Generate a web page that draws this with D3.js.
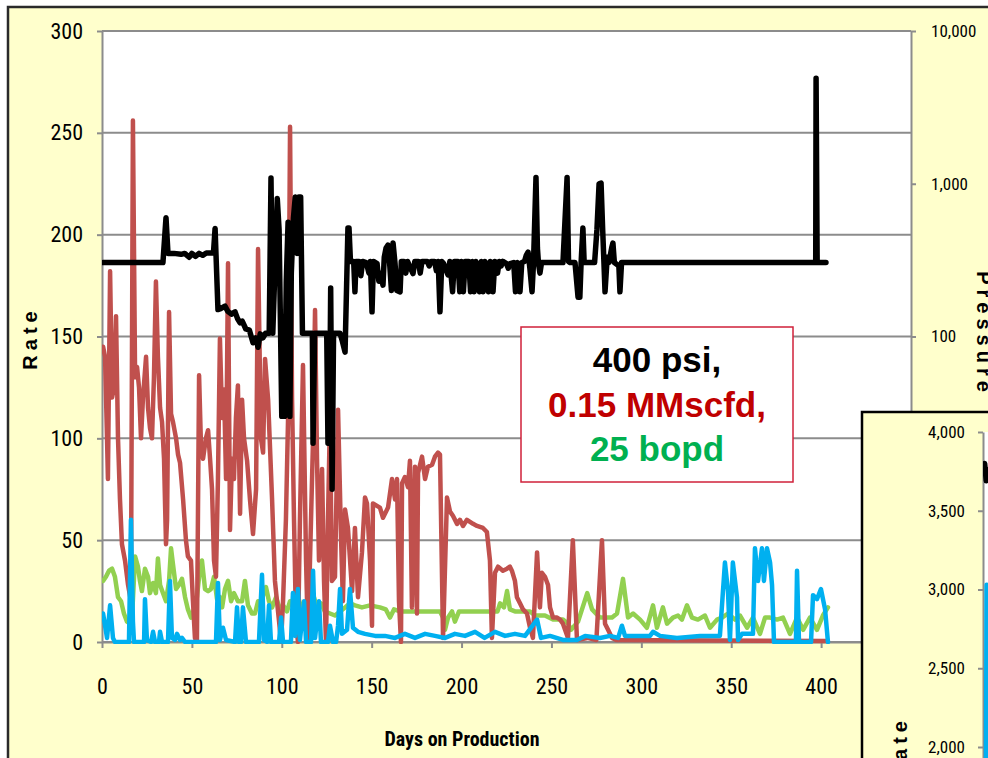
<!DOCTYPE html>
<html>
<head>
<meta charset="utf-8">
<script src="https://cdn.jsdelivr.net/npm/d3@7"></script>
<style>
  html, body { margin: 0; padding: 0; background: #ffffff; }
  svg { display: block; }
</style>
</head>
<body>
<svg id="chart" width="988" height="758"></svg>
<script>
// ---- data -------------------------------------------------------------
const rateTicks = [0, 50, 100, 150, 200, 250, 300];
const dayTicks = [0, 50, 100, 150, 200, 250, 300, 350, 400, 450];
const pressureTicks = [1, 10, 100, 1000, 10000];
const insetTicks = [2000, 2500, 3000, 3500, 4000];
const noteText = ["400 psi,", "0.15 MMscfd,", "25 bopd"];

// [day, MCF/D / 1000 rate scale]  gas
const gas = [[0.6,145],[1.7,140],[2.8,100],[3.3,80],[4.5,182],[5.6,120],[6.7,125],[7.8,160],[8.9,100],[10,70],[11.1,48],[12.8,40],[14.5,28],[16.1,20],[17.2,256],[18.4,130],[19.5,135],[20.6,125],[21.7,100],[22.8,120],[24.5,140],[25.6,115],[26.7,105],[27.8,100],[28.9,130],[30,177],[31.1,140],[32.3,115],[33.4,108],[34.5,90],[35.6,48],[36.2,60],[37.3,162],[38.4,112],[39.5,108],[41.2,100],[42.3,92],[43.4,88],[45.1,70],[46.7,50],[47.8,42],[49.5,40],[50.6,20],[51.7,2],[52.8,0],[54,131],[55.1,95],[56.2,90],[57.8,100],[59,104],[60.1,90],[61.2,75],[62.3,40],[63.4,32],[64.5,80],[65.6,149],[66.8,110],[67.9,124],[69,80],[70.1,186],[71.2,55],[72.3,90],[73.4,80],[74.5,110],[75.6,126],[76.8,63],[77.9,119],[79,100],[80.7,89],[82.3,70],[84,53],[85.7,75],[86.8,193],[88.4,100],[89.6,93],[90.7,139],[92.4,119],[94.6,70],[96.2,30],[98.5,10],[99.6,0],[100.7,20],[102.3,60],[103.5,110],[104.6,253],[105.7,120],[106.8,60],[107.9,10],[109,0],[110.1,60],[111.8,136],[113.5,40],[114.6,0],[115.7,40],[117.4,100],[118.5,163],[119.6,90],[120.7,40],[122.4,85],[123.5,30],[124.6,0],[125.7,60],[126.8,110],[127.9,30],[129.6,32],[131.3,114],[133,50],[134,20],[135.2,65],[136.8,56],[139.1,25],[140.7,56],[142.4,22],[144.6,44],[146.3,71],[147.4,68],[149.1,40],[150.2,8],[150.7,68],[154.6,66],[156.3,61],[159.1,66],[161.3,80],[163,70],[164.1,80],[165.2,20],[166.3,0],[166.9,78],[168.5,81],[170.2,76],[171.3,89],[172.4,17],[174.1,86],[175.2,14],[175.8,83],[178,91],[179.7,80],[181.3,86],[183.6,87],[185.2,91],[186.9,93],[188,92],[189.7,2],[191.9,71],[193.6,64],[195.2,62],[197.5,58],[199.1,60],[200.8,57],[203,60],[204.7,59],[206.4,58],[208.6,57],[211.9,56],[214.1,54],[215.8,40],[216.9,2],[218.6,34],[220.3,37],[223,35],[225.3,36],[226.9,37],[228,35],[229.7,30],[230.8,22],[232.5,19],[234.2,16],[236.4,14],[238.1,7],[239.7,2],[242,44],[243.6,17],[244.7,34],[246.4,32],[248.1,28],[249.2,17],[250.9,12],[253.1,12],[254.8,11],[256.4,9],[259.2,2],[261.9,50],[264.2,1],[270,2],[275,1],[278.1,50],[279.8,9],[281.5,6],[283.7,2],[286,1],[403.8,0.5]];

// oil
const oil = [[0.6,30],[2.2,32],[3.9,35],[5.6,36],[7.2,32],[8.9,22],[10.6,20],[12.2,14],[13.9,10],[15.6,9],[16.7,12],[18.4,42],[20,37],[21.1,30],[22.2,25],[23.9,36],[25.6,32],[26.7,24],[28.4,29],[30,24],[31.1,41],[32.3,28],[33.9,24],[35.6,20],[37.3,30],[38.4,46],[39.5,38],[41.2,26],[42.8,28],[44.5,31],[46.2,22],[47.8,16],[49.5,12],[51.2,16],[52.8,22],[54.5,36],[55.6,40],[57.3,26],[59,25],[60.6,26],[62.3,32],[64,21],[65.6,22],[66.8,17],[68.4,26],[70.1,30],[71.8,20],[73.4,24],[75.6,20],[77.9,20],[79.5,30],[81.2,18],[83.4,14],[85.1,14],[86.8,20],[88.4,18],[90.1,25],[91.2,27],[92.9,20],[94.6,17],[96.8,22],[99,16],[100.7,18],[102.9,15],[104.6,20],[106.8,17],[108.5,24],[110.1,19],[111.8,17],[114,20],[115.7,16],[117.9,22],[119.6,17],[121.8,19],[124,15],[126.8,14],[129.6,13],[132.4,15],[135.2,17],[137.9,19],[140.7,18],[144.6,17],[149.1,18],[154.6,17],[157.9,16],[160.2,12],[162.4,16],[165.8,15],[176.9,15],[188,15],[189.7,12],[190.8,6],[192.5,12],[194.7,15],[196.3,10],[198.6,15],[210.3,15],[220,15],[221.4,19],[223.6,17],[225.3,25],[226.9,16],[229.7,15],[238.1,15],[240.9,13],[246.4,13],[250.9,11],[256.4,11],[259.2,9],[260.9,6],[264.8,10],[269.9,24],[272.6,16],[277,12],[283.7,12],[286.5,14],[289.8,31],[292.6,12],[295.4,14],[299.3,11],[303.1,7],[306.5,18],[308.7,7],[312,17],[314.3,9],[317.6,12],[320.4,13],[322.6,11],[325.4,18],[328.2,12],[331.5,11],[335.4,13],[338.2,7],[342.1,11],[344.9,12],[348.2,14],[352.1,11],[354.9,13],[358.8,7],[362.1,12],[366,4],[368.8,12],[371.6,12],[375.5,11],[378.8,12],[382.7,4],[386.6,12],[390,6],[393.8,12],[397.7,6],[401,13],[403.8,17]];

// water
const water = [[0.6,14],[1.7,8],[2.8,2],[4.5,18],[6.1,2],[7.2,0],[15,0],[16.1,60],[17.2,10],[17.8,0],[23.4,0],[23.9,21],[25,1],[27.3,0],[28.4,5],[29.5,0],[31.7,0],[32.3,5],[33.4,0],[36.7,0],[37.8,30],[38.9,2],[40.6,1],[41.7,4],[43.4,1],[44.5,2],[46.2,0],[63.4,0],[64.5,29],[65.6,1],[67.3,7],[69,1],[74,0],[75.1,17],[76.2,0],[77.3,0],[78.4,17],[80.1,0],[87.3,0],[89,33],[90.1,1],[91.8,0],[92.9,18],[94,0],[98.5,0],[99.6,12],[100.7,0],[105.1,0],[106.2,24],[107.4,3],[109,26],[110.1,1],[112.4,20],[113.5,0],[116.3,0],[117.4,35],[118.5,2],[120.7,20],[121.8,0],[125.7,0],[126.8,8],[128.5,0],[130.2,0],[131.3,8],[132.4,26],[133.5,4],[136.3,6],[137.9,26],[139.6,7],[142.4,5],[146.3,4],[151.9,3],[157.4,3],[163,2],[168.5,4],[174.1,2],[179.7,4],[185.2,3],[190.8,2],[196.3,4],[201.9,3],[207.5,5],[212.8,2],[218.6,5],[224.2,3],[229.7,4],[235.3,3],[242,11],[244.2,2],[249.2,3],[256.4,1],[264.2,1],[268.7,3],[277,2],[282.6,3],[287.1,2],[289.2,8],[290.9,3],[304.8,3],[306.5,5],[310.4,3],[319.8,2],[332.6,3],[343.7,3],[346.5,39],[348.2,25],[349.3,1],[350.9,39],[353.2,22],[353.8,1],[356,4],[362.1,4],[363.2,46],[364.9,30],[367.1,46],[368.2,30],[369.9,46],[371.6,39],[372.7,28],[373.8,0],[386,0],[386.6,35],[387.7,0],[394.4,0],[395.5,23],[397.7,21],[399.9,26],[402.2,16],[403.8,0]];

// flowing pressure, psi
const pressure = [[0.6,305],[33.9,305],[35.6,600],[36.7,350],[40,350],[44,345],[46,350],[48.5,330],[50,350],[52,335],[54,350],[56,340],[58,352],[62,352],[62.9,510],[64.5,150],[66,152],[68.4,158],[70,146],[72,140],[74,145],[75.5,130],[76.8,123],[78,126],[80,112],[82,110],[84,91],[85.5,98],[86.8,85],[88,104],[89.5,98],[91,105],[93,105],[94,1090],[95,105],[97.5,800],[98.5,500],[100,30],[101.5,30],[102.5,230],[103.5,560],[104.5,30],[105.3,260],[106.5,600],[107.5,820],[108.5,350],[109.5,820],[110.5,820],[111.5,105],[117,105],[117.4,20],[118.3,105],[125,105],[125.7,20],[126.5,20],[127.2,208],[128,10],[128.8,105],[132.4,105],[133.5,95],[135.2,79],[136.8,513],[137.4,513],[138.2,310],[140,310],[140.7,196],[141.3,310],[143,310],[144,250],[145,310],[147,305],[148.5,260],[149.3,310],[150.2,145],[151,310],[153,300],[154,230],[155,260],[156.3,217],[157,330],[158,380],[159.1,397],[160,300],[161,200],[161.9,409],[163,300],[164,200],[165.8,196],[166.5,310],[168,310],[169,260],[170,310],[171,290],[173,258],[174,310],[176,310],[177,260],[178,310],[181,310],[182,290],[183,310],[185,310],[186,270],[187,310],[188,145],[189,310],[190,300],[192.5,253],[193.5,310],[195,196],[196,310],[198,310],[199,196],[200,310],[201,196],[202,310],[204,310],[205,196],[206,310],[207,196],[208,310],[210,196],[211,310],[212,196],[213,310],[215,196],[216,310],[217.5,196],[218.5,310],[220,260],[221,310],[222,290],[223,310],[225,300],[226,280],[227,300],[229,305],[230,196],[231,305],[232.5,196],[233.5,305],[235,310],[236,340],[237,357],[238,280],[239.2,196],[240,300],[241.4,1100],[242.2,380],[242.8,300],[243.6,260],[244.5,305],[256.4,305],[258.7,1100],[259.5,310],[260.3,305],[263.1,305],[264.8,181],[265.8,181],[266.5,305],[267.5,513],[268.2,305],[274,305],[275.3,500],[276.5,1000],[277.6,1011],[278.5,500],[279.2,305],[279.8,196],[281,330],[282,305],[283.5,380],[284.2,409],[285,305],[287.5,290],[288.1,196],[289,305],[397,305],[397.2,4900],[397.8,305],[402.7,305]];

// neighbouring well panel
const insetPressure = [[1,3800],[2,3690],[3,3760]];
const insetWater = [[1.6,1200],[2.2,3030],[2.8,900]];

// ---- layout -----------------------------------------------------------
const NARROW = "'Liberation Sans Narrow','Arial Narrow','Roboto Condensed',sans-serif";
const SANS = "'Liberation Sans',Arial,sans-serif";
const PANEL = "#FFFFCC";
const GRID = "#8c8c8c";

const svg = d3.select("#chart");

const x = d3.scaleLinear().domain([0, 450]).range([102, 911]);
const yRate = d3.scaleLinear().domain([0, 300]).range([642, 31]);
const yPress = d3.scaleLog().domain([1, 10000]).range([642, 31]);

// chart frame
svg.append("rect")
  .attr("x", 8).attr("y", 7).attr("width", 1000).attr("height", 800)
  .attr("fill", PANEL).attr("stroke", "#2a2a2a").attr("stroke-width", 2.5);

// plot area
svg.append("rect")
  .attr("x", x(0)).attr("y", yRate(300))
  .attr("width", x(450) - x(0)).attr("height", yRate(0) - yRate(300))
  .attr("fill", "#ffffff");

// horizontal gridlines
svg.append("g").selectAll("line").data(rateTicks).join("line")
  .attr("x1", x(0)).attr("x2", x(450))
  .attr("y1", d => yRate(d)).attr("y2", d => yRate(d))
  .attr("stroke", GRID).attr("stroke-width", 2);

function styleAxis(g, size) {
  g.select(".domain").attr("stroke", GRID).attr("stroke-width", 2);
  g.selectAll(".tick line").attr("stroke", GRID).attr("stroke-width", 2);
  g.selectAll(".tick text")
    .attr("fill", "#000").style("font-family", NARROW).style("font-size", size + "px");
}

// left axis
svg.append("g").attr("transform", `translate(${x(0)},0)`)
  .call(d3.axisLeft(yRate).tickValues(rateTicks).tickSize(5).tickPadding(14).tickSizeOuter(0))
  .call(g => styleAxis(g, 22));

// bottom axis
svg.append("g").attr("transform", `translate(0,${yRate(0)})`)
  .call(d3.axisBottom(x).tickValues(dayTicks).tickSize(6).tickPadding(30).tickSizeOuter(0))
  .call(g => styleAxis(g, 22));

// right (pressure) axis
svg.append("g").attr("transform", `translate(${x(450)},0)`)
  .call(d3.axisRight(yPress).tickValues(pressureTicks).tickFormat(d3.format(",")).tickSize(5).tickPadding(15).tickSizeOuter(0))
  .call(g => styleAxis(g, 17));

// series
const clip = svg.append("clipPath").attr("id", "plotClip").append("rect")
  .attr("x", x(0)).attr("y", yRate(300) - 6)
  .attr("width", x(450) - x(0)).attr("height", yRate(0) - yRate(300) + 8);

const rateLine = d3.line().x(d => x(d[0])).y(d => yRate(d[1]));
const pressLine = d3.line().x(d => x(d[0])).y(d => yPress(d[1]));

const series = svg.append("g").attr("clip-path", "url(#plotClip)")
  .attr("fill", "none").attr("stroke-linejoin", "round").attr("stroke-linecap", "round");

series.append("path").datum(oil).attr("d", rateLine).attr("stroke", "#92D050").attr("stroke-width", 4.5);
series.append("path").datum(gas).attr("d", rateLine).attr("stroke", "#C0504D").attr("stroke-width", 4.5);
series.append("path").datum(water).attr("d", rateLine).attr("stroke", "#00B0F0").attr("stroke-width", 4.5);
series.append("path").datum(pressure).attr("d", pressLine).attr("stroke", "#000000").attr("stroke-width", 5.5);

// axis titles
svg.append("text")
  .attr("transform", `translate(37,338) rotate(-90)`)
  .attr("text-anchor", "middle")
  .style("font-family", SANS).style("font-weight", "bold").style("font-size", "20px")
  .style("letter-spacing", "5px")
  .text("Rate");

svg.append("text")
  .attr("transform", `translate(977,334) rotate(90)`)
  .attr("text-anchor", "middle")
  .style("font-family", SANS).style("font-weight", "bold").style("font-size", "20px")
  .style("letter-spacing", "5px")
  .text("Pressure");

svg.append("text")
  .attr("x", 462).attr("y", 746)
  .attr("text-anchor", "middle")
  .style("font-family", NARROW).style("font-weight", "bold").style("font-size", "20px")
  .text("Days on Production");

// annotation box
const note = svg.append("g");
note.append("rect")
  .attr("x", 521).attr("y", 327).attr("width", 272).attr("height", 155)
  .attr("fill", "#ffffff").attr("stroke", "#D0213A").attr("stroke-width", 1.5);
const noteColors = ["#000000", "#C00000", "#00B050"];
note.selectAll("text").data(noteText).join("text")
  .attr("x", 657).attr("y", (d, i) => 372 + i * 44.5)
  .attr("text-anchor", "middle")
  .attr("fill", (d, i) => noteColors[i])
  .style("font-family", SANS).style("font-weight", "bold").style("font-size", "35px")
  .text(d => d);

// neighbouring panel (partly visible at lower right)
const inset = svg.append("g");
inset.append("rect")
  .attr("x", 862).attr("y", 412).attr("width", 200).attr("height", 400)
  .attr("fill", PANEL).attr("stroke", "#000").attr("stroke-width", 2.5);
const ix = d3.scaleLinear().domain([0, 500]).range([983, 1800]);
const iy = d3.scaleLinear().domain([0, 4000]).range([1062, 432]);
inset.append("rect").attr("x", 983).attr("y", iy(4000)).attr("width", 10).attr("height", 400).attr("fill", "#fff");
inset.append("g").attr("transform", `translate(983,0)`)
  .call(d3.axisLeft(iy).tickValues(insetTicks).tickFormat(d3.format(",")).tickSize(5).tickPadding(13).tickSizeOuter(0))
  .call(g => styleAxis(g, 17));
inset.append("clipPath").attr("id", "insetClip").append("rect")
  .attr("x", 983).attr("y", 413).attr("width", 20).attr("height", 400);
const iLine = d3.line().x(d => ix(d[0])).y(d => iy(d[1]));
const iseries = inset.append("g").attr("clip-path", "url(#insetClip)").attr("fill", "none")
  .attr("stroke-linejoin", "round").attr("stroke-linecap", "round");
iseries.append("path").datum(insetWater).attr("d", iLine).attr("stroke", "#00B0F0").attr("stroke-width", 4.5);
iseries.append("path").datum(insetPressure).attr("d", iLine).attr("stroke", "#000").attr("stroke-width", 5.5);
inset.append("text")
  .attr("transform", `translate(907,716) rotate(-90)`)
  .attr("text-anchor", "end")
  .style("font-family", SANS).style("font-weight", "bold").style("font-size", "20px")
  .style("letter-spacing", "5px")
  .text("Rate");
</script>
</body>
</html>
